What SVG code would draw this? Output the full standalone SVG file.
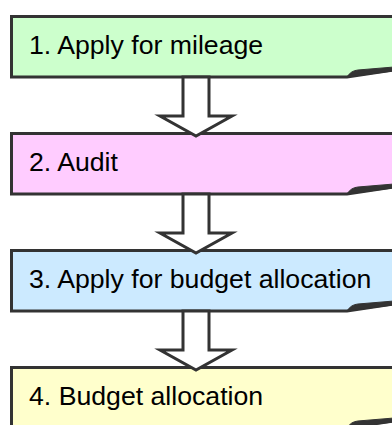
<svg xmlns="http://www.w3.org/2000/svg" width="392" height="425" viewBox="0 0 392 425">
<style>
.box{stroke:#333;stroke-width:3;stroke-linejoin:miter}
.flap{fill:#333;stroke:#333;stroke-width:1}
.lbl{font-family:"Liberation Sans",Arial,sans-serif;font-size:26.67px;fill:#000}
.arr{fill:#fff;stroke:#333;stroke-width:3;stroke-linejoin:miter}
</style>
<defs>
<path id="note" d="M11.5,16.5 H400 V69 L347,77 H11.5 Z"/>
<path id="fold" d="M347,77 Q351,70.5 358,70 L400,66.5 L400,70 Z"/>
<polygon id="arrow" points="183,77 183,116 160,116 196,136 232,116 209,116 209,77"/>
</defs>
<g id="node1">
<use href="#note" class="box" fill="#ccffcc"/>
<use href="#fold" class="flap"/>
<text class="lbl" x="29" y="54">1. Apply for mileage</text>
</g>
<g id="node2" transform="translate(0,117)">
<use href="#note" class="box" fill="#ffccff"/>
<use href="#fold" class="flap"/>
<text class="lbl" x="29" y="54">2. Audit</text>
</g>
<g id="node3" transform="translate(0,234)">
<use href="#note" class="box" fill="#cceaff"/>
<use href="#fold" class="flap"/>
<text class="lbl" x="29" y="54">3. Apply for budget allocation</text>
</g>
<g id="node4" transform="translate(0,351)">
<use href="#note" class="box" fill="#ffffcc"/>
<use href="#fold" class="flap"/>
<text class="lbl" x="29" y="54">4. Budget allocation</text>
</g>
<g id="connectors">
<use href="#arrow" class="arr"/>
<use href="#arrow" class="arr" transform="translate(0,117)"/>
<use href="#arrow" class="arr" transform="translate(0,234)"/>
</g>
</svg>
